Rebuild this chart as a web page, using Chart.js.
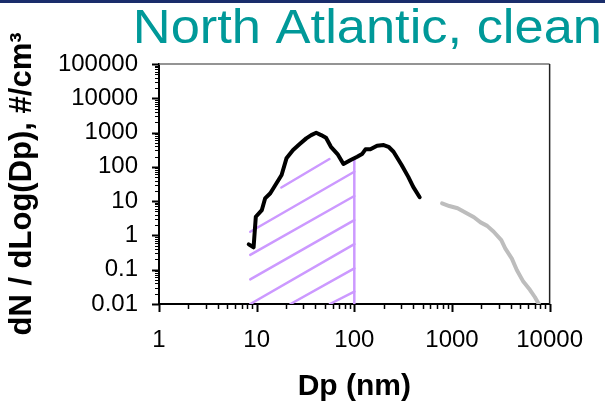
<!DOCTYPE html>
<html>
<head>
<meta charset="utf-8">
<script src="https://cdn.jsdelivr.net/npm/chart.js@4.4.1/dist/chart.umd.min.js"></script>
<style>
  html, body { margin: 0; padding: 0; background: #fff; }
  #wrap { width: 605px; height: 405px; }
</style>
</head>
<body>
<div id="wrap"><canvas id="sizeChart" width="605" height="405"></canvas></div>
<script>
// SMPS size distribution (nm, #/cm3)
const dpFine = [8.3, 9.3, 9.8, 11.3, 12.2, 13.8, 15.5, 18, 20.2, 23.6, 27.6, 32.2, 36.2, 40.7, 45.7, 51.3,
  57.6, 67.3, 77.4, 91.8, 107, 120, 130, 146, 171, 200, 224, 252, 305, 357, 401, 467];
const dnFine = [0.55, 0.45, 3.5, 5.5, 12, 17, 29, 58, 177, 309, 462, 677, 845, 986, 845, 705,
  385, 236, 121, 158, 197, 236, 324, 324, 412, 432, 385, 276, 113, 51, 26, 13];

// optical counter range
const dpCoarse = [792, 939, 1142, 1385, 1680, 1963, 2294, 2675, 3199, 3510, 4104, 4611, 5373, 6281, 7050, 7750];
const dnCoarse = [8.6, 7.2, 6.2, 4.6, 3.4, 2.4, 1.9, 1.28, 0.73, 0.42, 0.21, 0.098, 0.045, 0.026, 0.016, 0.01];

// hatched band below 100 nm
const hatchDpFrom = [17.9, 8.6, 8.6, 8.6, 8.6, 22.2, 56.1];
const hatchDnFrom = [25, 1.28, 0.27, 0.052, 0.01, 0.01, 0.01];
const hatchDpTo = [55.6, 100, 100, 100, 100, 100, 100];
const hatchDnTo = [169, 72, 14.1, 2.8, 0.56, 0.11, 0.023];
const cutoffDp = 100;
const cutoffDn = [0.01, 166];

const xDecades = [1, 10, 100, 1000, 10000];
const yDecades = [0.01, 0.1, 1, 10, 100, 1000, 10000, 100000];

const FONT = '"Liberation Sans", Arial, sans-serif';
const HATCH = '#cc99ff';

// 1..9 x 10^n between the decade limits
function logTicks(decades) {
  const out = [];
  for (let i = 0; i < decades.length - 1; i++) {
    for (let k = 1; k < 10; k++) out.push(Number((decades[i] * k).toPrecision(6)));
  }
  out.push(decades[decades.length - 1]);
  return out.map(v => ({ value: v }));
}

const lineSet = (pts, color, width) => ({
  data: pts,
  borderColor: color,
  borderWidth: width,
  pointRadius: 0,
  showLine: true,
  tension: 0,
  borderJoinStyle: 'round',
  borderCapStyle: 'round'
});

const datasets = [
  lineSet(dpFine.map((x, i) => ({ x, y: dnFine[i] })), '#000', 4),
  lineSet(dpCoarse.map((x, i) => ({ x, y: dnCoarse[i] })), '#bdbdbd', 4),
  lineSet([{ x: cutoffDp, y: cutoffDn[0] }, { x: cutoffDp, y: cutoffDn[1] }], HATCH, 2.5),
  ...hatchDpFrom.map((x, i) => lineSet([{ x, y: hatchDnFrom[i] }, { x: hatchDpTo[i], y: hatchDnTo[i] }], HATCH, 2.5))
];

// outward tick marks, longer at each decade
const tickMarks = {
  id: 'tickMarks',
  afterDraw(chart) {
    const { ctx, chartArea, scales } = chart;
    ctx.save();
    ctx.strokeStyle = '#000';
    scales.x.ticks.forEach(t => {
      const major = xDecades.includes(t.value);
      const px = Math.round(scales.x.getPixelForValue(t.value)) + 0.5;
      ctx.lineWidth = major ? 2 : 1.5;
      ctx.beginPath();
      ctx.moveTo(px, chartArea.bottom);
      ctx.lineTo(px, chartArea.bottom + (major ? 8 : 5));
      ctx.stroke();
    });
    scales.y.ticks.forEach(t => {
      const major = yDecades.includes(t.value);
      const py = Math.round(scales.y.getPixelForValue(t.value)) + 0.5;
      ctx.lineWidth = major ? 2 : 1;
      ctx.beginPath();
      ctx.moveTo(chartArea.left, py);
      ctx.lineTo(chartArea.left - (major ? 7 : 4), py);
      ctx.stroke();
    });
    // top and right frame
    ctx.lineWidth = 1.5;
    ctx.strokeStyle = '#707070';
    ctx.beginPath();
    ctx.moveTo(chartArea.left, chartArea.top);
    ctx.lineTo(chartArea.right, chartArea.top);
    ctx.stroke();
    ctx.strokeStyle = '#222';
    ctx.beginPath();
    ctx.moveTo(chartArea.right, chartArea.top);
    ctx.lineTo(chartArea.right, chartArea.bottom);
    ctx.stroke();
    ctx.restore();
  }
};

// slide heading and top rule
const heading = {
  id: 'heading',
  afterDraw(chart) {
    const { ctx, width } = chart;
    ctx.save();
    ctx.fillStyle = '#1a2d6b';
    ctx.fillRect(0, 0, width, 3);
    ctx.fillStyle = '#009999';
    ctx.font = '49px ' + FONT;
    ctx.textAlign = 'right';
    ctx.textBaseline = 'alphabetic';
    ctx.translate(width - 3, 43);
    ctx.scale(1.07, 1);
    ctx.fillText('North Atlantic, clean', 0, 0);
    ctx.restore();
  }
};

new Chart(document.getElementById('sizeChart'), {
  type: 'scatter',
  data: { datasets },
  options: {
    responsive: false,
    animation: false,
    layout: { padding: { top: 64, right: 50, left: 0, bottom: 0 } },
    plugins: { legend: { display: false }, tooltip: { enabled: false } },
    scales: {
      x: {
        type: 'logarithmic',
        min: 1,
        max: 10000,
        afterBuildTicks: s => { s.ticks = logTicks(xDecades); },
        afterFit: s => { s.height = 101; },
        grid: { display: false, drawTicks: false },
        border: { display: true, color: '#000', width: 2 },
        ticks: {
          autoSkip: false,
          maxRotation: 0,
          padding: 22,
          color: '#000',
          font: { family: FONT, size: 24 },
          callback: v => xDecades.includes(v) ? String(v) : ''
        },
        title: {
          display: true,
          text: 'Dp (nm)',
          color: '#000',
          font: { family: FONT, size: 30, weight: 'bold' },
          padding: { top: 0, bottom: 0 }
        }
      },
      y: {
        type: 'logarithmic',
        min: 0.01,
        max: 100000,
        afterBuildTicks: s => { s.ticks = logTicks(yDecades); },
        afterFit: s => { s.width = 159; },
        grid: { display: false, drawTicks: false },
        border: { display: true, color: '#000', width: 2 },
        ticks: {
          autoSkip: false,
          padding: 21,
          color: '#000',
          font: { family: FONT, size: 24 },
          callback: v => yDecades.includes(v) ? String(v) : ''
        },
        title: {
          display: true,
          text: 'dN / dLog(Dp), #/cm³',
          color: '#000',
          font: { family: FONT, size: 31, weight: 'bold' },
          padding: { top: 4, bottom: 0 }
        }
      }
    }
  },
  plugins: [tickMarks, heading]
});
</script>
</body>
</html>
